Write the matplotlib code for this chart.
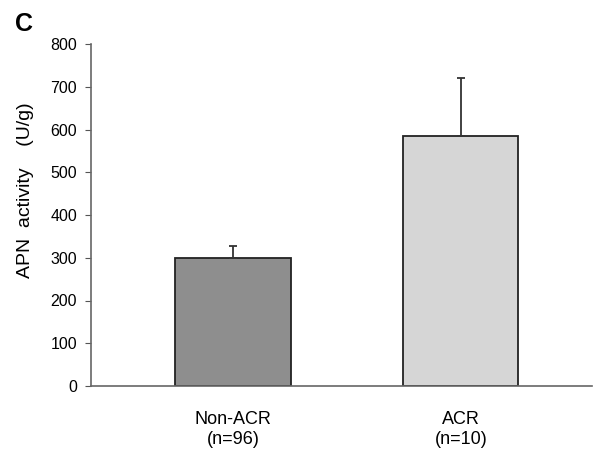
import numpy as np
import matplotlib.pyplot as plt

plt.rcParams['font.family'] = ['Liberation Sans', 'DejaVu Sans']

# données
groups = ['Non-ACR\n(n=96)', 'ACR\n(n=10)']
means = [300, 584]
errors = [28, 136]
colors = ['#8e8e8e', '#d6d6d6']

fig = plt.figure(figsize=(5.96, 4.53), dpi=100)
ax = fig.add_axes([91/596, 1 - 386/453, (592-91)/596, (386-44)/453])

x = np.arange(len(groups))
ax.bar(x, means, width=0.505, color=colors, edgecolor='#222222', linewidth=1.3, zorder=2)
ax.errorbar(x, means, yerr=[np.zeros(len(errors)), errors], fmt='none',
            ecolor='#333333', elinewidth=1.3, capsize=3, capthick=1.3, zorder=3)

ax.set_ylim(0, 800)
ax.set_xlim(-0.623, 1.575)
ax.set_yticks(np.arange(0, 801, 100))
ax.set_xticks(x)
ax.set_xticklabels(groups, fontsize=13, linespacing=1.2)
ax.tick_params(axis='x', length=0, pad=18)
ax.tick_params(axis='y', direction='out', length=4, labelsize=11.5, pad=6, color='#555555')

for s in ['top', 'right']:
    ax.spines[s].set_visible(False)
for s in ['left', 'bottom']:
    ax.spines[s].set_color('#666666')
    ax.spines[s].set_linewidth(1.2)

# titre de l'axe y, un peu au-dessus du centre comme dans la figure
fig.text(26/596, 1 - 190/453, 'APN  activity    (U/g)', fontsize=14,
         rotation=90, ha='center', va='center')
fig.text(15/596, 1 - 24/453, 'C', fontsize=18, fontweight='bold', ha='left', va='center')

fig.savefig('out.png', dpi=100)
